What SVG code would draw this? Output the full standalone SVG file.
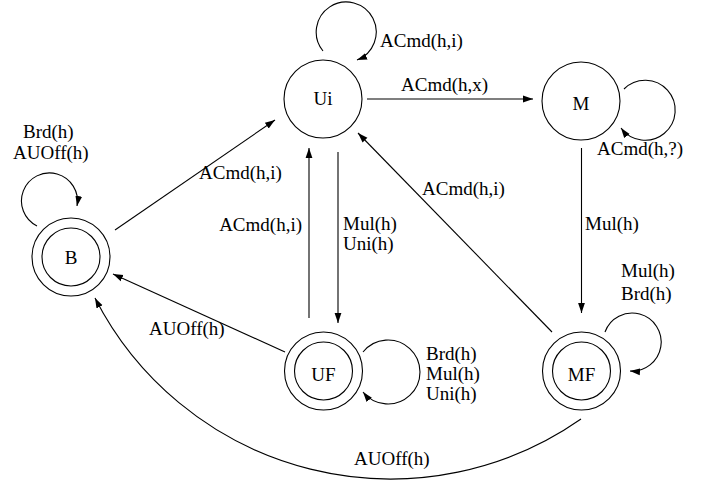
<svg xmlns="http://www.w3.org/2000/svg" width="702" height="485" viewBox="0 0 702 485">
<style>
.st{fill:none;stroke:#000;stroke-width:1.1}
.lbl{font-family:"Liberation Serif","Times New Roman",serif;font-size:19px;fill:#000}
.nm{font-family:"Liberation Serif","Times New Roman",serif;font-size:19px;fill:#000;text-anchor:middle}
.ed{fill:none;stroke:#000;stroke-width:1.1;marker-end:url(#ah)}
</style>
<defs>
<marker id="ah" viewBox="0 0 10 10" refX="10" refY="5" markerWidth="10" markerHeight="10" markerUnits="userSpaceOnUse" orient="auto">
<path d="M0,1.6 L10,5 L0,8.4 z" fill="#000"/>
</marker>
</defs>
<rect width="702" height="485" fill="#fff"/>
<g id="node-Ui"><circle class="st" cx="323" cy="99" r="39"/><text class="nm" x="323" y="105">Ui</text></g>
<g id="node-M"><circle class="st" cx="581" cy="101" r="39"/><text class="nm" x="581" y="110">M</text></g>
<g id="node-B"><circle class="st" cx="71" cy="257" r="39"/><circle class="st" cx="71" cy="257" r="29"/><text class="nm" x="71" y="264">B</text></g>
<g id="node-UF"><circle class="st" cx="323.5" cy="371" r="39"/><circle class="st" cx="323.5" cy="371" r="29"/><text class="nm" x="323.5" y="381">UF</text></g>
<g id="node-MF"><circle class="st" cx="581.5" cy="371" r="39"/><circle class="st" cx="581.5" cy="371" r="29"/><text class="nm" x="581.5" y="381">MF</text></g>
<g id="connectors">
<path class="ed" d="M323,51 A30,30 0 1 1 357,60"/>
<text class="lbl" x="380" y="47">ACmd(h,i)</text>
<path class="ed" d="M367,99 L533,99"/>
<text class="lbl" x="401" y="91">ACmd(h,x)</text>
<path class="ed" d="M624,89 A30,30 0 1 1 621,128"/>
<text class="lbl" x="597" y="155">ACmd(h,?)</text>
<path class="ed" d="M581.5,148 L581.5,313"/>
<text class="lbl" x="585" y="230">Mul(h)</text>
<path class="ed" d="M605,332 A29,29 0 1 1 630,371"/>
<text class="lbl" x="621" y="277">Mul(h)</text>
<text class="lbl" x="621" y="300">Brd(h)</text>
<path class="ed" d="M37,226 A28,28 0 1 1 77,206"/>
<text class="lbl" x="23" y="138">Brd(h)</text>
<text class="lbl" x="13" y="159">AUOff(h)</text>
<path class="ed" d="M115,230 L275,120"/>
<text class="lbl" x="199" y="179">ACmd(h,i)</text>
<path class="ed" d="M309,318 L309,148"/>
<text class="lbl" x="302" y="231" text-anchor="end">ACmd(h,i)</text>
<path class="ed" d="M338,152 L338,323"/>
<text class="lbl" x="343" y="230">Mul(h)</text>
<text class="lbl" x="343" y="250">Uni(h)</text>
<path class="ed" d="M552,332 L358,133"/>
<text class="lbl" x="422" y="195">ACmd(h,i)</text>
<path class="ed" d="M285,352 L113,274"/>
<text class="lbl" x="149" y="335">AUOff(h)</text>
<path class="ed" d="M363,352 A32,32 0 1 1 363,392"/>
<text class="lbl" x="426" y="360">Brd(h)</text>
<text class="lbl" x="426" y="380">Mul(h)</text>
<text class="lbl" x="426" y="400">Uni(h)</text>
<path class="ed" d="M581,419 A332,332 0 0 1 95,298"/>
<text class="lbl" x="354" y="465">AUOff(h)</text>
</g>
</svg>
